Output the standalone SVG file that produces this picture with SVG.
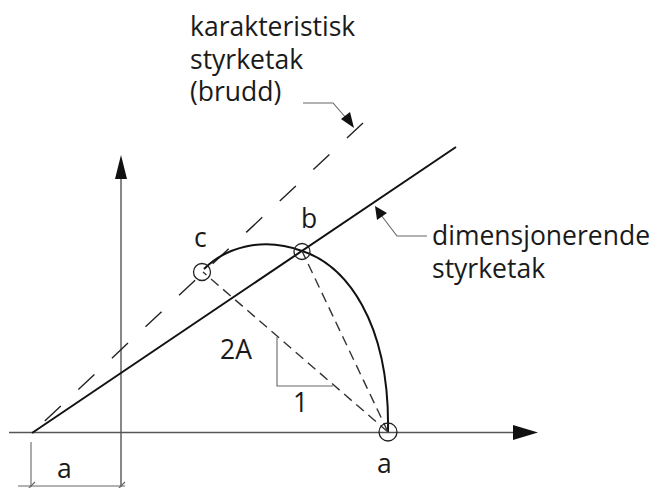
<svg xmlns="http://www.w3.org/2000/svg" width="658" height="488" viewBox="0 0 658 488">
<style>
text{font-family:"Open Sans","Noto Sans","DejaVu Sans",sans-serif;fill:#1a1a1a;font-size:26.5px}
.axis{stroke:#555;stroke-width:1.4;fill:none}
.thin{stroke:#666;stroke-width:1.1;fill:none}
.solid{stroke:#111;stroke-width:2;fill:none}
.dash{stroke:#222;stroke-width:1.4;fill:none;stroke-dasharray:22 24}
.sdash{stroke:#333;stroke-width:1.4;fill:none;stroke-dasharray:10 6}
.pt{stroke:#222;stroke-width:1.3;fill:none}
</style>
<rect width="658" height="488" fill="#fff"/>
<g id="connectors">
<line class="axis" x1="9" y1="432.5" x2="516" y2="432.5"/>
<polygon points="538,432.5 513,425 513,440" fill="#111"/>
<line class="axis" x1="121" y1="175" x2="121" y2="487"/>
<polygon points="121,155 115,179 127,179" fill="#111"/>
<line class="solid" x1="32" y1="433" x2="456" y2="147"/>
<line class="dash" x1="363" y1="123" x2="32" y2="433"/>
<path class="solid" d="M 204 269 C 225 248, 262 236, 302 251 C 345 265, 390 320, 388 432"/>
<line class="sdash" x1="388" y1="432" x2="203" y2="272"/>
<line class="sdash" x1="388" y1="432" x2="302" y2="251"/>
<polyline class="thin" points="277,337 277,386 333,386"/>
<line class="thin" x1="31" y1="442" x2="31" y2="487"/>
<line class="thin" x1="18" y1="486" x2="125" y2="486"/>
<line class="thin" x1="27" y1="490" x2="35" y2="482"/>
<line class="thin" x1="117" y1="490" x2="125" y2="482"/>
<polyline class="thin" points="303,103 333,103 347,119"/>
<polygon points="354,128 341,119 350,112" fill="#111"/>
<polyline class="thin" points="427,236 397,236 381,215"/>
<polygon points="375,206 377,220 387,213" fill="#111"/>
</g>
<g id="node-c"><circle class="pt" cx="202" cy="272" r="8.5"/><text x="194" y="247" font-size="29">c</text></g>
<g id="node-b"><circle class="pt" cx="302" cy="251.5" r="8"/><text x="301" y="228" font-size="29">b</text></g>
<g id="node-a"><circle class="pt" cx="388" cy="432" r="9"/><text x="377" y="473" font-size="29">a</text></g>
<g id="label-2A"><text x="220" y="359" font-size="33">2A</text></g>
<g id="label-1"><text x="293" y="412" font-size="31">1</text></g>
<g id="label-dim-a"><text x="57" y="478" font-size="29">a</text></g>
<g id="label-karakteristisk">
<text x="190" y="36">karakteristisk</text>
<text x="190" y="69">styrketak</text>
<text x="190" y="101">(brudd)</text>
</g>
<g id="label-dimensjonerende">
<text x="432" y="245">dimensjonerende</text>
<text x="432" y="278">styrketak</text>
</g>
</svg>
